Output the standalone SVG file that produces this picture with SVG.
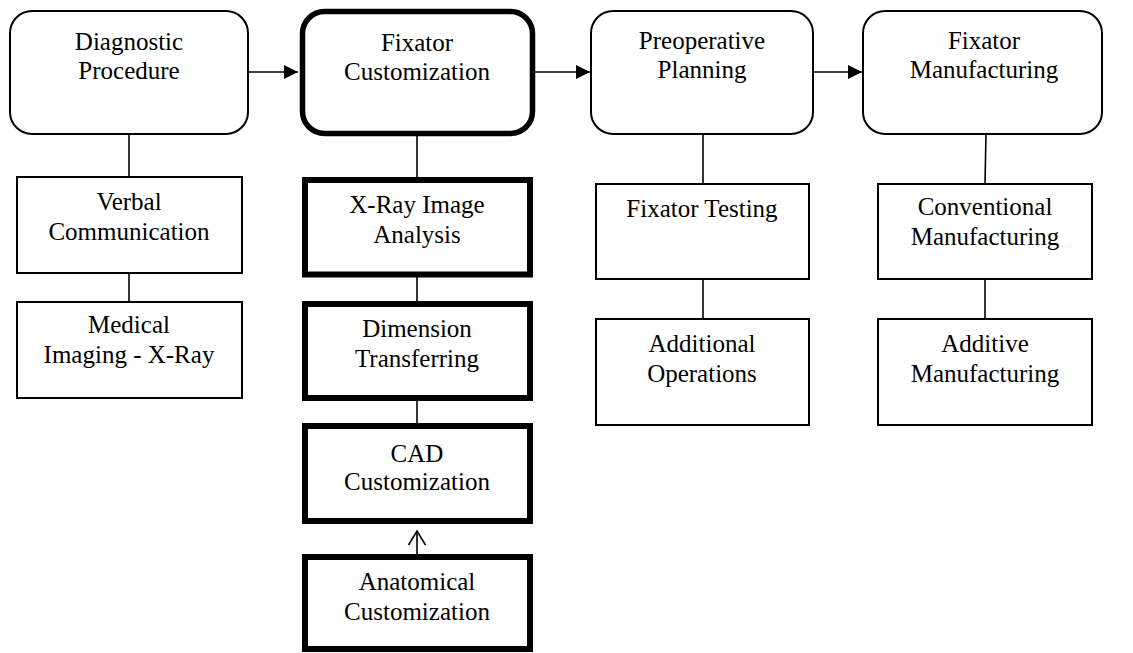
<svg xmlns="http://www.w3.org/2000/svg" width="1133" height="653" viewBox="0 0 1133 653">
<defs>
<marker id="tri" markerWidth="14" markerHeight="14" refX="14" refY="7" orient="auto" markerUnits="userSpaceOnUse">
<path d="M0,0 L14,7 L0,14 Z" fill="#000"/>
</marker>
</defs>
<style>
text{font-family:"Liberation Serif","Times New Roman",serif;font-size:25px;fill:#000;text-anchor:middle}
.main{fill:#fff;stroke:#000;stroke-width:2}
.mainb{fill:#fff;stroke:#000;stroke-width:5.5}
.sub{fill:#fff;stroke:#000;stroke-width:2}
.subb{fill:#fff;stroke:#000;stroke-width:6}
.con{stroke:#000;stroke-width:1.6;fill:none}
</style>
<rect width="1133" height="653" fill="#fff"/>
<g id="connectors">
<line class="con" x1="249" y1="72" x2="298" y2="72" marker-end="url(#tri)"/>
<line class="con" x1="535" y1="72" x2="590" y2="72" marker-end="url(#tri)"/>
<line class="con" x1="813" y1="72" x2="862" y2="72" marker-end="url(#tri)"/>
<line class="con" x1="129" y1="134" x2="129" y2="177"/>
<line class="con" x1="129" y1="273" x2="129" y2="302"/>
<line class="con" x1="417" y1="136" x2="417" y2="177"/>
<line class="con" x1="417" y1="277" x2="417" y2="301"/>
<line class="con" x1="417" y1="401" x2="417" y2="423"/>
<line class="con" x1="417" y1="554" x2="417" y2="531"/>
<polyline class="con" points="408.5,545 417,531 425.5,545"/>
<line class="con" x1="703" y1="134" x2="703" y2="184"/>
<line class="con" x1="703" y1="279" x2="703" y2="319"/>
<line class="con" x1="986" y1="134" x2="985" y2="184"/>
<line class="con" x1="985" y1="279" x2="985" y2="319"/>
</g>
<g id="diagnostic">
<rect class="main" x="10" y="11" width="238" height="123" rx="22"/>
<text x="129" y="50">Diagnostic</text>
<text x="129" y="79">Procedure</text>
</g>
<g id="fixator-customization">
<rect class="mainb" x="302.5" y="11.5" width="230" height="122" rx="22"/>
<text x="417" y="51">Fixator</text>
<text x="417" y="80">Customization</text>
</g>
<g id="preoperative">
<rect class="main" x="591" y="11" width="222" height="123" rx="22"/>
<text x="702" y="49">Preoperative</text>
<text x="702" y="78">Planning</text>
</g>
<g id="fixator-manufacturing">
<rect class="main" x="863" y="11" width="239" height="123" rx="22"/>
<text x="984" y="49">Fixator</text>
<text x="984" y="78">Manufacturing</text>
</g>
<g id="verbal">
<rect class="sub" x="17" y="177" width="225" height="96"/>
<text x="129" y="210">Verbal</text>
<text x="129" y="240">Communication</text>
</g>
<g id="medical-imaging">
<rect class="sub" x="17" y="302" width="225" height="96"/>
<text x="129" y="333">Medical</text>
<text x="129" y="363">Imaging - X-Ray</text>
</g>
<g id="xray-analysis">
<rect class="subb" x="305" y="180" width="225" height="94.5"/>
<text x="417" y="213">X-Ray Image</text>
<text x="417" y="243">Analysis</text>
</g>
<g id="dimension">
<rect class="subb" x="305" y="304" width="225" height="94"/>
<text x="417" y="337">Dimension</text>
<text x="417" y="367">Transferring</text>
</g>
<g id="cad">
<rect class="subb" x="305" y="426" width="225" height="95"/>
<text x="417" y="462">CAD</text>
<text x="417" y="490">Customization</text>
</g>
<g id="anatomical">
<rect class="subb" x="305" y="557" width="225" height="92"/>
<text x="417" y="590">Anatomical</text>
<text x="417" y="620">Customization</text>
</g>
<g id="fixator-testing">
<rect class="sub" x="596" y="184" width="213" height="95"/>
<text x="702" y="217">Fixator Testing</text>
</g>
<g id="additional-operations">
<rect class="sub" x="596" y="319" width="213" height="106"/>
<text x="702" y="352">Additional</text>
<text x="702" y="382">Operations</text>
</g>
<g id="conventional">
<rect class="sub" x="878" y="184" width="214" height="95"/>
<text x="985" y="215">Conventional</text>
<text x="985" y="245">Manufacturing</text>
</g>
<g id="additive">
<rect class="sub" x="878" y="319" width="214" height="106"/>
<text x="985" y="352">Additive</text>
<text x="985" y="382">Manufacturing</text>
</g>
</svg>
